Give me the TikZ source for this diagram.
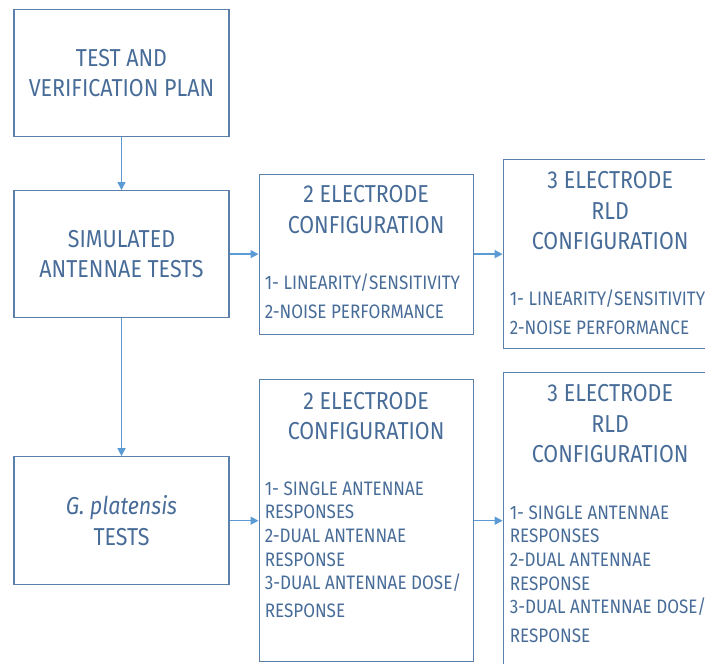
\documentclass[tikz,border=0pt]{standalone}
\usepackage{fontspec}
\setmainfont{Fira Sans}[FakeStretch=0.875]
\usetikzlibrary{arrows.meta,positioning}
\definecolor{txtblue}{RGB}{72,108,152}
\definecolor{boxblue}{RGB}{92,128,172}
\definecolor{arrowblue}{RGB}{91,155,213}
\tikzset{
  box/.style={draw=boxblue, line width=1.1pt, inner sep=0pt,
    minimum width=215pt, minimum height=127pt},
  head/.style={text=txtblue, inner sep=0pt, align=center,
    font=\fontsize{24.5}{30.5}\selectfont},
  item/.style={text=txtblue, inner sep=0pt, align=left,
    font=\fontsize{19.5}{23.7}\selectfont},
  arrow/.style={-{Triangle[length=8pt, width=8pt]}, draw=arrowblue, line width=1.4pt},
}

\begin{document}
\begin{tikzpicture}[x=1pt,y=-1pt]
  \useasboundingbox (0,0) rectangle (705,664);

  % left column
  \node[box, head] (plan) at (121.5,73) {TEST AND\\VERIFICATION PLAN};
  \node[box, head, below=53pt of plan] (sim) {SIMULATED\\ANTENNAE TESTS};
  \node[box, head, below=138pt of sim, minimum height=128pt] (fish)
    {\textit{G. platensis}\\TESTS};

  % electrode configurations
  \node[box, right=29pt of sim, minimum width=214pt, minimum height=160pt] (sim2) {};
  \node[box, right=29pt of sim2, minimum width=214pt, minimum height=189pt] (sim3) {};
  \node[box, right=29pt of fish, minimum width=214pt, minimum height=282pt] (fish2) {};
  \node[box, right=29pt of fish2, minimum width=214pt, minimum height=296pt] (fish3) {};

  \node[head, below=12pt of sim2.north] (sim2 title) {2 ELECTRODE\\CONFIGURATION};
  \node[item, below right=100pt and 6pt of sim2.north west] (sim2 list)
    {1- LINEARITY/SENSITIVITY\\[5pt]2-NOISE PERFORMANCE};

  \node[head, below=12.5pt of sim3.north] (sim3 title) {3 ELECTRODE\\RLD\\CONFIGURATION};
  \node[item, below right=131pt and 7pt of sim3.north west] (sim3 list)
    {1- LINEARITY/SENSITIVITY\\[5pt]2-NOISE PERFORMANCE};

  \node[head, below=12.5pt of fish2.north] (fish2 title) {2 ELECTRODE\\CONFIGURATION};
  \node[item, below right=102pt and 6pt of fish2.north west] (fish2 list)
    {1- SINGLE ANTENNAE\\RESPONSES\\2-DUAL ANTENNAE\\RESPONSE\\
     3-DUAL ANTENNAE DOSE/\\[4pt]RESPONSE};

  \node[head, below=12pt of fish3.north] (fish3 title) {3 ELECTRODE\\RLD\\CONFIGURATION};
  \node[item, below right=133pt and 7pt of fish3.north west] (fish3 list)
    {1- SINGLE ANTENNAE\\RESPONSES\\2-DUAL ANTENNAE\\RESPONSE\\
     3-DUAL ANTENNAE DOSE/\\[5pt]RESPONSE};

  % connectors
  \draw[arrow] (plan) -- (sim);
  \draw[arrow] (sim) -- (fish);
  \draw[arrow] (sim) -- (sim2);
  \draw[arrow] (sim2) -- (sim3);
  \draw[arrow] (fish) -- (fish2);
  \draw[arrow] (fish2) -- (fish3);
\end{tikzpicture}
\end{document}
